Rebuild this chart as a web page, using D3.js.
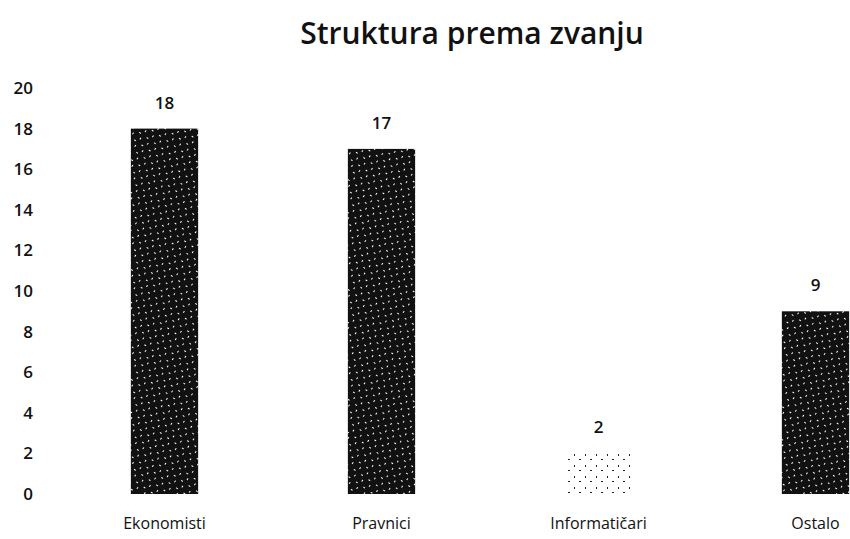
<!DOCTYPE html>
<html>
<head>
<meta charset="utf-8">
<script src="https://cdn.jsdelivr.net/npm/d3@7"></script>
<style>
  body { margin: 0; background: #fff; }
  svg { display: block; font-family: "Open Sans", sans-serif; }
</style>
</head>
<body>
<div class="chart"></div>
<script>
const categories = ["Ekonomisti", "Pravnici", "Informatičari", "Ostalo"];
const values = [18, 17, 2, 9];
const yTicks = [0, 2, 4, 6, 8, 10, 12, 14, 16, 18, 20];
const title = "Struktura prema zvanju";
const textures = ["dark", "dark", "light", "dark"];

const width = 850, height = 539;

const svg = d3.select(".chart")
  .append("svg")
  .attr("width", width)
  .attr("height", height);

// scanned halftone look
const defs = svg.append("defs");
const dark = defs.append("pattern")
  .attr("id", "dark")
  .attr("width", 9).attr("height", 9)
  .attr("patternUnits", "userSpaceOnUse")
  .attr("patternTransform", "rotate(35)");
dark.append("rect").attr("width", 9).attr("height", 9).attr("fill", "#111");
dark.append("rect").attr("x", 1).attr("y", 1).attr("width", 2).attr("height", 1).attr("fill", "#fff");
dark.append("rect").attr("x", 5).attr("y", 5).attr("width", 1).attr("height", 2).attr("fill", "#fff");

const light = defs.append("pattern")
  .attr("id", "light")
  .attr("width", 11).attr("height", 11)
  .attr("patternUnits", "userSpaceOnUse");
light.append("rect").attr("width", 11).attr("height", 11).attr("fill", "#fff");
light.append("rect").attr("x", 2).attr("y", 3).attr("width", 1).attr("height", 2).attr("fill", "#222");
light.append("rect").attr("x", 7).attr("y", 8).attr("width", 2).attr("height", 1).attr("fill", "#222");

const x = d3.scaleBand()
  .domain(categories)
  .range([56, 924])
  .paddingInner(0.69)
  .paddingOuter(0.345);

const y = d3.scaleLinear()
  .domain([0, 20])
  .range([494, 88]);

svg.append("text")
  .attr("x", 472)
  .attr("y", 44)
  .attr("text-anchor", "middle")
  .style("font-size", "30px")
  .style("font-weight", 600)
  .style("fill", "#111")
  .text(title);

const yAxis = svg.append("g")
  .attr("transform", "translate(33,0)")
  .call(d3.axisLeft(y).tickValues(yTicks).tickSize(0).tickPadding(0));
yAxis.select(".domain").remove();
yAxis.selectAll("text")
  .style("font-size", "17px")
  .style("font-weight", 600)
  .style("font-family", "'Open Sans', sans-serif")
  .style("fill", "#111");

svg.append("g")
  .selectAll("rect")
  .data(values)
  .enter()
  .append("rect")
  .attr("x", (d, i) => x(categories[i]))
  .attr("y", (d) => y(d))
  .attr("width", x.bandwidth())
  .attr("height", (d) => y(0) - y(d))
  .attr("fill", (d, i) => `url(#${textures[i]})`);

svg.append("g")
  .selectAll("text")
  .data(values)
  .enter()
  .append("text")
  .attr("x", (d, i) => x(categories[i]) + x.bandwidth() / 2)
  .attr("y", (d) => y(d) - 20)
  .attr("text-anchor", "middle")
  .style("font-size", "17px")
  .style("font-weight", 600)
  .style("fill", "#111")
  .text((d) => d);

const xAxis = svg.append("g")
  .attr("transform", `translate(0,${y(0)})`)
  .call(d3.axisBottom(x).tickSize(0).tickPadding(24));
xAxis.select(".domain").remove();
xAxis.selectAll("text")
  .style("font-size", "16px")
  .style("font-weight", 500)
  .style("font-family", "'Open Sans', sans-serif")
  .style("fill", "#111");
</script>
</body>
</html>
